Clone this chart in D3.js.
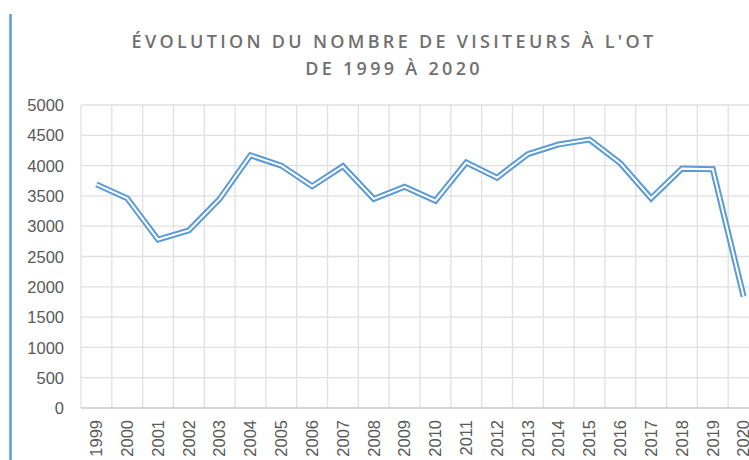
<!DOCTYPE html>
<html>
<head>
<meta charset="utf-8">
<script src="https://cdn.jsdelivr.net/npm/d3@7"></script>
<style>
  html, body { margin: 0; padding: 0; background: #fff; }
  svg { display: block; font-family: 'Open Sans', sans-serif; }
  .grid line { stroke: #e0e0e0; stroke-width: 1.3; }
  .axis text { fill: #595959; font-size: 16.5px; }
  .axis path, .axis line { display: none; }
</style>
</head>
<body>
<svg id="chart" width="749" height="460"></svg>
<script>
const years = ['1999', '2000', '2001', '2002', '2003', '2004', '2005', '2006', '2007', '2008', '2009',
    '2010', '2011', '2012', '2013', '2014', '2015', '2016', '2017', '2018', '2019', '2020'];
const visitors = [3690, 3460, 2780, 2930, 3450, 4170, 4000, 3660, 3990, 3450, 3650,
    3420, 4050, 3800, 4190, 4350, 4430, 4040, 3460, 3950, 3940, 1840];
const yTicks = [0, 500, 1000, 1500, 2000, 2500, 3000, 3500, 4000, 4500, 5000];
const titleLines = ["ÉVOLUTION DU NOMBRE DE VISITEURS À L'OT", 'DE 1999 À 2020'];

const data = years.map((y, i) => ({ year: y, value: visitors[i] }));

const svg = d3.select('#chart');
const margin = { top: 105, right: -10, bottom: 52, left: 81 };
const W = 749, H = 460;

const x = d3.scaleBand().domain(years).range([margin.left, W - margin.right]).padding(0);
const y = d3.scaleLinear().domain([0, 5000]).range([H - margin.bottom, margin.top]);

// blue bar on the left
svg.append('line')
    .attr('x1', 10.5).attr('x2', 10.5)
    .attr('y1', 14).attr('y2', H)
    .attr('stroke', '#5b9bd5').attr('stroke-width', 2.5);

// title
const title = svg.append('text')
    .attr('text-anchor', 'middle')
    .attr('fill', '#707070')
    .style('font-size', '18px')
    .style('font-weight', 600)
    .style('letter-spacing', '3.3px');
titleLines.forEach((t, i) => {
    title.append('tspan').attr('x', 394).attr('y', 48 + i * 27).text(t);
});

// grid
const grid = svg.append('g').attr('class', 'grid');
grid.selectAll('.h').data(yTicks.slice(1)).enter().append('line')
    .attr('x1', margin.left).attr('x2', W)
    .attr('y1', (d) => y(d)).attr('y2', (d) => y(d));
const edges = years.map((d) => x(d)).concat([x(years[years.length - 1]) + x.bandwidth()]);
grid.selectAll('.v').data(edges).enter().append('line')
    .attr('x1', (d) => d).attr('x2', (d) => d)
    .attr('y1', y(5000)).attr('y2', y(0));

svg.append('line')
    .attr('x1', margin.left).attr('x2', W)
    .attr('y1', y(0)).attr('y2', y(0))
    .attr('stroke', '#c8c8c8').attr('stroke-width', 1.3);

// axes
svg.append('g').attr('class', 'axis')
    .attr('transform', `translate(${margin.left - 17},0)`)
    .call(d3.axisLeft(y).tickValues(yTicks).tickFormat(d3.format('d')).tickSize(0).tickPadding(0))
    .selectAll('text').attr('dy', '0.34em');

const xAxis = svg.append('g').attr('class', 'axis')
    .attr('transform', `translate(0,${y(0)})`)
    .call(d3.axisBottom(x).tickSize(0));
xAxis.selectAll('text')
    .attr('transform', 'rotate(-90)')
    .attr('text-anchor', 'end')
    .attr('x', -12)
    .attr('y', 0)
    .attr('dy', '0.35em');

// double line
const line = d3.line()
    .x((d) => x(d.year) + x.bandwidth() / 2)
    .y((d) => y(d.value));

svg.append('path').datum(data)
    .attr('d', line)
    .attr('fill', 'none')
    .attr('stroke', '#5b9bd5')
    .attr('stroke-width', 6);

svg.append('path').datum(data)
    .attr('d', line)
    .attr('fill', 'none')
    .attr('stroke', '#fff')
    .attr('stroke-width', 2);
</script>
</body>
</html>
